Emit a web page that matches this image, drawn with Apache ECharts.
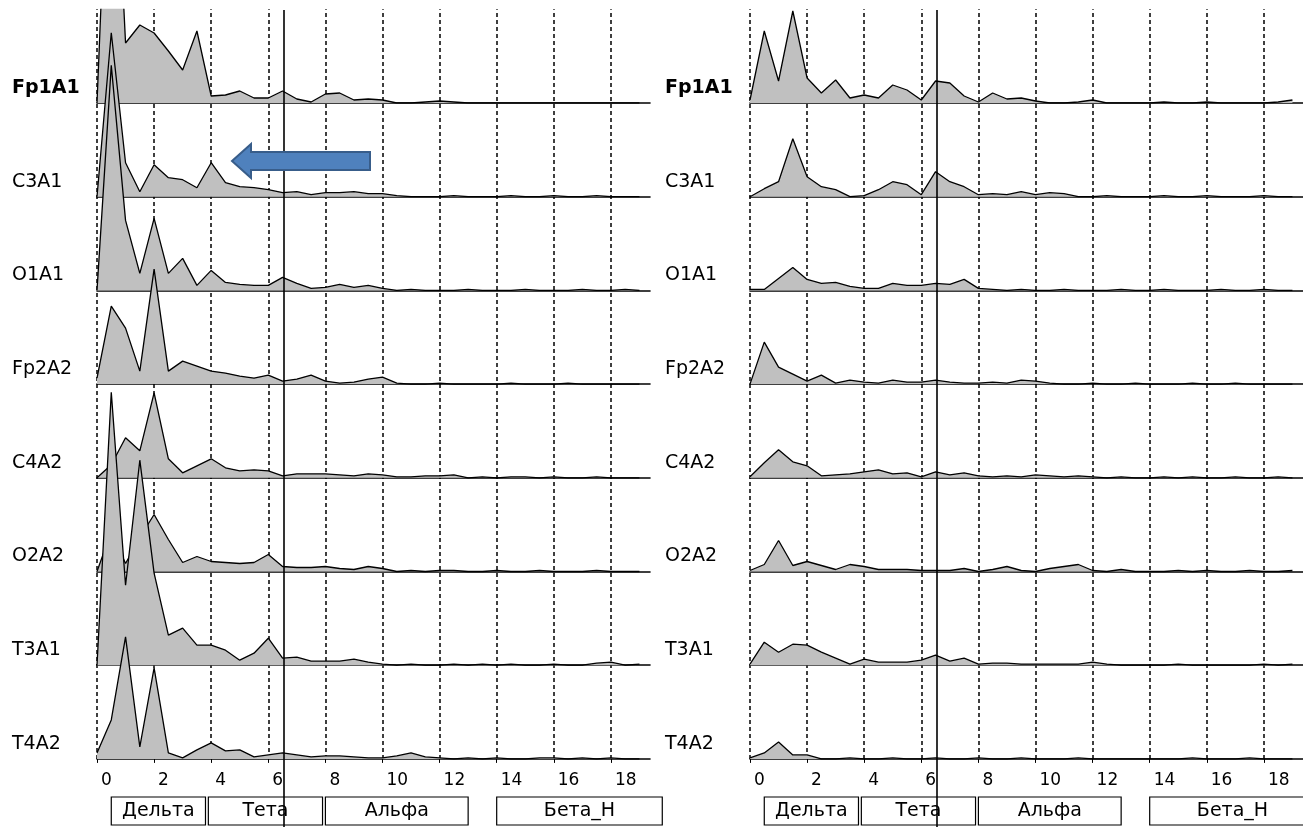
<!DOCTYPE html>
<html>
<head>
<meta charset="utf-8">
<title>Спектры ЭЭГ</title>
<script src="https://cdn.jsdelivr.net/npm/echarts@6/dist/echarts.min.js"></script>
<style>
html, body { margin: 0; padding: 0; background: #fff; }
#chart { width: 1303px; height: 827px; }
</style>
</head>
<body>
<div id="chart"></div>
<script>
// частоты спектра, Гц (шаг 0.5)
var freqHz = [0,0.5,1,1.5,2,2.5,3,3.5,4,4.5,5,5.5,6,6.5,7,7.5,8,8.5,9,9.5,10,10.5,11,11.5,12,12.5,13,13.5,14,14.5,15,15.5,16,16.5,17,17.5,18,18.5,19];
var gridHz = [0,2,4,6,8,10,12,14,16,18];   // пунктирные линии и подписи оси
var channels = ['Fp1A1','C3A1','O1A1','Fp2A2','C4A2','O2A2','T3A1','T4A2'];
var cursorHz = 6.55;                         // вертикальный курсор

// частотные диапазоны
var bandNames = ['Дельта','Тета','Альфа','Бета_Н'];
var bandFrom  = [0.5, 3.9, 8.0, 14.0];
var bandTo    = [3.8, 7.9, 13.0, 19.8];

// левая панель - мощность
var leftFp1A1 = [0,350,60,78,70,52,33,72,7,8,12,5,5,12,4,1,9, 10,3,4,3,0,0,1,2,1,0,0,0,0,0,0,0,0,0,0,0,0,0];
var leftC3A1  = [0,164,34,5,32,19,17,9,34,14,10,9,7,4,5,2,4, 4,5,3,3,1,0,0,0,1,0,0,0,1,0,0,1,0,0,1,0,0,0];
var leftO1A1  = [0,225,70,17,72,17,32,5,20,8,6,5,5,13,7,2,3, 6,3,5,2,0,1,0,0,0,1,0,0,0,1,0,0,0,1,0,0,1,0];
var leftFp2A2 = [6,78,56,13,115,13,23,18,13,11,8,6,9,3,5,9,3, 1,2,5,7,1,0,0,1,0,0,0,0,1,0,0,0,1,0,0,0,0,0];
var leftC4A2  = [0,13,40,27,85,19,5,12,19,10,7,8,7,2,4,4,4, 3,2,4,3,1,1,2,2,3,0,1,0,1,1,0,1,0,0,1,0,0,0];
var leftO2A2  = [0,40,8,34,57,32,9,15,10,9,8,9,17,5,4,4,5, 3,2,5,3,0,1,0,1,1,0,0,1,0,0,1,0,0,0,1,0,0,0];
var leftT3A1  = [0,273,80,205,92,30,37,20,20,15,5,12,27,7,8,4,4, 4,6,3,1,0,1,0,0,1,0,1,0,1,0,0,1,0,0,2,3,0,1];
var leftT4A2  = [6,39,122,12,91,6,1,9,16,8,9,2,4,6,4,2,3, 3,2,1,1,3,6,2,1,0,1,0,1,0,0,1,1,0,1,0,1,0,0];

// правая панель - мощность
var rightFp1A1 = [3,72,22,92,25,10,23,5,8,5,18,13,3,22,20,7,1, 10,4,5,2,0,0,1,3,0,0,0,0,1,0,0,1,0,0,0,0,1,3];
var rightC3A1  = [0,8,15,58,20,10,7,0,1,7,15,12,2,25,15,10,2, 3,2,5,2,4,3,0,0,1,0,0,0,1,0,0,1,0,0,0,1,0,0];
var rightO1A1  = [1,1,12,23,11,7,8,4,2,2,7,5,5,7,6,11,2, 1,0,1,0,0,1,0,0,0,1,0,0,1,0,0,0,1,0,0,1,0,0];
var rightFp2A2 = [0,42,17,10,3,9,1,4,2,1,4,2,2,4,2,1,1, 2,1,4,3,1,0,0,1,0,0,1,0,0,0,1,0,0,1,0,0,0,0];
var rightC4A2  = [1,15,28,16,12,2,3,4,6,8,4,5,1,6,3,5,2, 1,2,1,3,2,1,2,1,0,1,0,0,1,0,1,0,0,1,0,0,1,0];
var rightO2A2  = [1,7,31,6,10,6,2,7,5,2,2,2,1,1,1,3,0, 2,5,1,0,3,5,7,1,0,2,0,0,0,1,0,1,0,0,1,0,0,1];
var rightT3A1  = [1,23,13,21,20,13,7,1,6,3,3,3,5,10,4,7,1, 2,2,1,1,1,1,1,3,1,0,0,0,0,1,0,0,0,0,0,1,0,1];
var rightT4A2  = [1,6,17,4,4,0,0,1,0,0,1,0,0,1,0,0,1, 0,0,1,0,0,0,1,0,0,0,0,0,0,0,1,0,0,0,1,0,0,0];

var panels = [
    [leftFp1A1, leftC3A1, leftO1A1, leftFp2A2, leftC4A2, leftO2A2, leftT3A1, leftT4A2],
    [rightFp1A1, rightC3A1, rightO1A1, rightFp2A2, rightC4A2, rightO2A2, rightT3A1, rightT4A2]
];

// разметка
var panelLeft = [97, 750];
var labelLeft = [12, 665];
var plotW = 553;
var xMax = 19.37;
var firstBase = 103;
var rowH = 93.7;
var FONT = 'DejaVu Sans';

var chart = echarts.init(document.getElementById('chart'));

var grid = [], xAxis = [], yAxis = [], series = [], title = [];

function addGrid(g, xa, ya) {
    grid.push(g);
    var i = grid.length - 1;
    xa.gridIndex = i;
    ya.gridIndex = i;
    xAxis.push(xa);
    yAxis.push(ya);
    return i;
}

panels.forEach(function (panel, p) {
    var left = panelLeft[p];

    // пунктирная сетка + подписи частот
    var gi = addGrid(
        { left: left, width: plotW, top: firstBase - rowH, height: rowH * 8 },
        { type: 'value', min: 0, max: xMax, interval: 2,
          axisLine: { show: false },
          axisTick: { show: true, length: 4, lineStyle: { color: '#000', width: 1 } },
          axisLabel: { show: true, showMaxLabel: false, align: 'left', padding: [0, 0, 0, 4], margin: 13,
                       fontFamily: FONT, fontSize: 17, color: '#000',
                       formatter: function (v) { return v % 2 === 0 ? String(v) : ''; } },
          splitLine: { show: false } },
        { type: 'value', min: 0, max: 1, show: false }
    );
    series.push({
        type: 'line', xAxisIndex: gi, yAxisIndex: gi, data: [], z: 1, silent: true,
        markLine: {
            z: 1, silent: true, symbol: ['none', 'none'], label: { show: false },
            lineStyle: { type: [4, 3], color: '#000', width: 1.5 },
            data: gridHz.map(function (v) { return { xAxis: v }; })
        }
    });

    // спектры по каналам
    panel.forEach(function (vals, r) {
        var base = firstBase + r * rowH;
        var ri = addGrid(
            { left: left, width: plotW, top: base - rowH, height: rowH },
            { type: 'value', min: 0, max: xMax,
              axisLine: { show: true, lineStyle: { color: '#000', width: 1.6 } },
              axisTick: { show: false }, axisLabel: { show: false }, splitLine: { show: false } },
            { type: 'value', min: 0, max: rowH, show: false }
        );
        series.push({
            name: channels[r], type: 'line', xAxisIndex: ri, yAxisIndex: ri,
            data: freqHz.map(function (f, k) { return [f, vals[k]]; }),
            symbol: 'none', clip: r === 0, z: 3 + r, silent: true,
            lineStyle: { color: '#000', width: 1.3 },
            areaStyle: { color: '#c0c0c0', opacity: 1 }
        });
        title.push({
            text: channels[r], left: labelLeft[p], top: base - 26, padding: 0,
            textStyle: { fontFamily: FONT, fontSize: 19, lineHeight: 22,
                         fontWeight: r === 0 ? 'bold' : 'normal', color: '#000' }
        });
    });

    // частотные диапазоны
    var bi = addGrid(
        { left: left, width: plotW, top: 797, height: 28 },
        { type: 'value', min: 0, max: xMax, show: false },
        { type: 'value', min: 0, max: 1, show: false }
    );
    series.push({
        type: 'custom', xAxisIndex: bi, yAxisIndex: bi, clip: false, z: 20, silent: true,
        encode: { x: [0, 1] },
        data: bandFrom.map(function (f, i) { return [f, bandTo[i]]; }),
        renderItem: function (params, api) {
            var x0 = api.coord([api.value(0), 0])[0];
            var x1 = api.coord([api.value(1), 0])[0];
            var cs = params.coordSys;
            return {
                type: 'group',
                children: [
                    { type: 'rect', shape: { x: x0, y: cs.y, width: x1 - x0, height: cs.height },
                      style: { fill: '#fff', stroke: '#000', lineWidth: 1.2 } },
                    { type: 'text', style: { text: bandNames[params.dataIndex], x: (x0 + x1) / 2, y: cs.y + cs.height / 2,
                      align: 'center', verticalAlign: 'middle', font: '19px "DejaVu Sans"', fill: '#000' } }
                ]
            };
        }
    });

    // курсор
    var ci = addGrid(
        { left: left, width: plotW, top: 10, bottom: 0 },
        { type: 'value', min: 0, max: xMax, show: false },
        { type: 'value', min: 0, max: 1, show: false }
    );
    series.push({
        type: 'line', xAxisIndex: ci, yAxisIndex: ci, data: [], z: 50, silent: true,
        markLine: {
            z: 50, silent: true, symbol: ['none', 'none'], label: { show: false },
            lineStyle: { type: 'solid', color: '#000', width: 1.6 },
            data: [{ xAxis: cursorHz }]
        }
    });
});

chart.setOption({
    backgroundColor: '#fff',
    animation: false,
    textStyle: { fontFamily: FONT },
    title: title,
    grid: grid,
    xAxis: xAxis,
    yAxis: yAxis,
    series: series,
    graphic: [{
        type: 'polygon', z: 100, silent: true,
        shape: { points: [[232, 161], [251, 144], [251, 152], [370, 152], [370, 170], [251, 170], [251, 178]] },
        style: { fill: '#4f81bd', stroke: '#385d8a', lineWidth: 2 }
    }]
});
</script>
</body>
</html>
